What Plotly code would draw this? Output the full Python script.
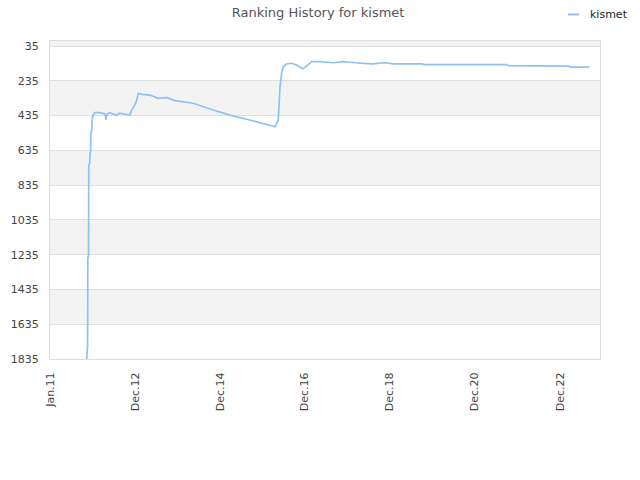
import plotly.graph_objects as go

dates = ["2011-11-12", "2011-11-14", "2011-11-20", "2011-11-22", "2011-11-28", "2011-11-30",
         "2011-12-08", "2011-12-11", "2011-12-16", "2011-12-18", "2011-12-26", "2011-12-30",
         "2012-01-08", "2012-01-23", "2012-03-06", "2012-04-17", "2012-04-26", "2012-05-02",
         "2012-05-24", "2012-06-28", "2012-07-27", "2012-08-18", "2012-09-22", "2012-11-18",
         "2012-12-03", "2012-12-31", "2013-01-15", "2013-01-29", "2013-02-27", "2013-05-09",
         "2013-07-19", "2013-09-30", "2013-12-10", "2014-05-16", "2014-11-04", "2015-03-27",
         "2015-08-18", "2015-12-10", "2016-04-17", "2016-05-01", "2016-05-15", "2016-05-30",
         "2016-06-13", "2016-06-27", "2016-07-12", "2016-07-26", "2016-09-07", "2016-10-20",
         "2016-12-11", "2017-01-14", "2017-02-26", "2017-05-09", "2017-08-31", "2017-11-25",
         "2018-03-05", "2018-07-27", "2018-11-18", "2019-01-28", "2019-09-29", "2019-10-28",
         "2021-09-28", "2021-10-12", "2023-03-11", "2023-03-25", "2023-09-07"]
ranks = [1835, 1771, 1760, 1253, 1240, 719,
         710, 656, 640, 535, 520, 449,
         430, 418, 418, 426, 460, 432,
         418, 426, 433, 421, 426, 432,
         403, 374, 345, 307, 313, 317,
         336, 332, 349, 364, 403, 432,
         456, 476, 499, 479, 460, 269,
         192, 154, 144, 138, 134, 144,
         165, 150, 125, 125, 131, 125,
         131, 137, 131, 137, 138, 142,
         142, 148, 150, 156, 156]

tick_dates = ["2011-01-01", "2012-12-31", "2014-12-31", "2016-12-30", "2018-12-30", "2020-12-29", "2022-12-30"]
tick_labels = ["Jan.11", "Dec.12", "Dec.14", "Dec.16", "Dec.18", "Dec.20", "Dec.22"]
y_ticks = [35, 235, 435, 635, 835, 1035, 1235, 1435, 1635, 1835]
series_name = "kismet"
line_color = "#8ec1f6"

fig = go.Figure()
fig.add_trace(go.Scatter(x=dates, y=ranks, mode="lines", name=series_name,
                         showlegend=False, line=dict(color=line_color, width=1.7)))

# alternating bands
shapes = []
band_edges = [-200] + y_ticks
for i in range(len(band_edges) - 1):
    if i % 2 == 0:
        shapes.append(dict(type="rect", xref="paper", yref="y", x0=0, x1=1,
                           y0=band_edges[i], y1=band_edges[i + 1],
                           fillcolor="#f3f3f3", line=dict(width=0), layer="below"))
# legend symbol
shapes.append(dict(type="line", xref="paper", yref="paper", x0=0.9418, x1=0.962,
                   y0=1.0835, y1=1.0835, line=dict(color=line_color, width=2)))

fig.update_layout(
    width=640, height=480,
    margin=dict(l=50, r=40, t=41, b=121, autoexpand=False),
    paper_bgcolor="white", plot_bgcolor="white",
    title=dict(text="Ranking History for kismet", x=0.497, xanchor="center",
               xref="container", yref="container", y=0.975, yanchor="middle",
               font=dict(family="DejaVu Sans", size=13, color="#555555")),
    font=dict(family="DejaVu Sans", size=11, color="#444444"),
    showlegend=False,
    shapes=shapes,
    annotations=[dict(text=series_name, xref="paper", yref="paper", x=0.978, y=1.0835,
                      xanchor="left", yanchor="middle", showarrow=False,
                      font=dict(family="DejaVu Sans", size=11, color="#222222"))],
    xaxis=dict(type="date", range=["2011-01-01", "2023-12-09"], tickmode="array",
               tickvals=tick_dates, ticktext=tick_labels, tickangle=-90,
               showgrid=False, showline=True, linecolor="#dddddd", mirror=True,
               ticks="", zeroline=False, ticklabelstandoff=8,
               tickfont=dict(size=11, color="#444444")),
    yaxis=dict(range=[1835, 6], tickmode="array", tickvals=y_ticks,
               showgrid=True, gridcolor="#e0e0e0", gridwidth=1,
               showline=True, linecolor="#dddddd", mirror=True,
               ticks="", zeroline=False, ticklabelstandoff=8,
               tickfont=dict(size=11, color="#444444")),
)

fig.write_html("out.html", config={"displayModeBar": False},
               post_script="document.body.style.margin='0';document.body.style.overflow='hidden';")
